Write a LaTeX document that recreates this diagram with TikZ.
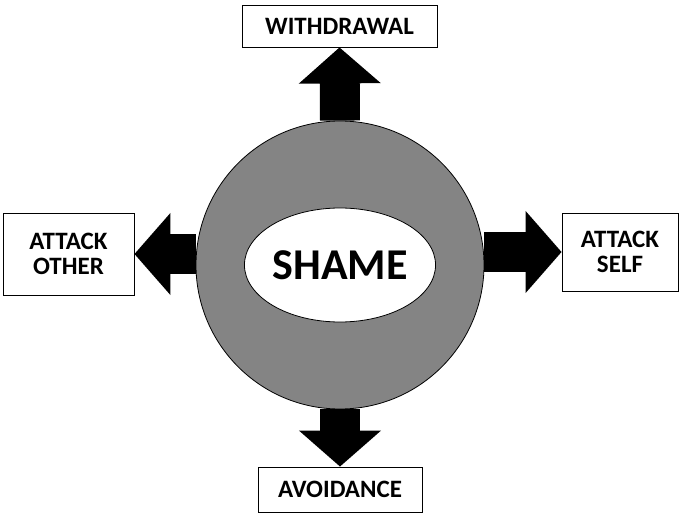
\documentclass[tikz,border=0pt]{standalone}
\usepackage{fontspec}
\setmainfont{Carlito}
\usetikzlibrary{arrows.meta,shapes.geometric}
\tikzset{
  outcome/.style={draw,thick,fill=white,font=\bfseries\fontsize{25}{25}\selectfont,align=center,inner sep=0pt},
  push/.style={line width=40pt,-{Triangle[width=80pt,length=36pt]}}
}
\begin{document}
\begin{tikzpicture}[x=1pt,y=-1pt]
      \useasboundingbox (0,0) rectangle (681,516);
      \node[circle,draw,thick,fill=gray!85!white!90!black,minimum size=288pt] (ring) at (340,265) {};

      \node[outcome,minimum width=195pt,minimum height=42pt] (up) at (339.5,26) {WITHDRAWAL};
      \node[outcome,minimum width=131pt,minimum height=82pt] (left) at (68.5,254) {ATTACK\\OTHER};
      \node[outcome,minimum width=116pt,minimum height=78pt] (right) at (620,252) {ATTACK\\SELF};
      \node[outcome,minimum width=164pt,minimum height=45pt] (down) at (340,489.5) {AVOIDANCE};

      \draw[push] (ring.north) -- (up.south);
      \draw[push] (ring.west |- left.east) -- (left.east);
      \draw[push] (ring.east |- right.west) -- (right.west);
      \draw[push] (ring.south) -- (down.north);
      \node[ellipse,draw,thick,fill=white,minimum width=156pt,minimum height=114pt,inner sep=0pt,
            font=\bfseries\fontsize{44}{44}\selectfont] (core) at (340,265) {SHAME};
    \end{tikzpicture}
\end{document}
